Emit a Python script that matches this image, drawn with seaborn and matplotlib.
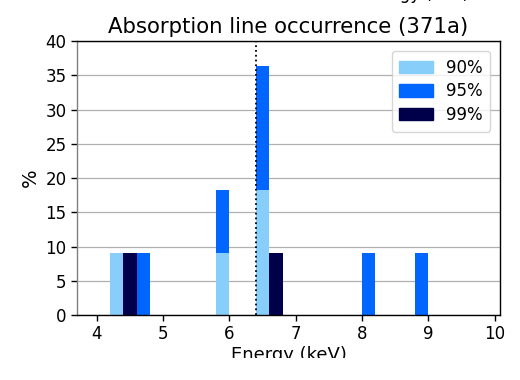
import numpy as np
import pandas as pd
import matplotlib
matplotlib.use("Agg")
import matplotlib.pyplot as plt
from matplotlib.patches import Rectangle
import seaborn as sns

# Line energies (bin centres, keV) and occurrence (%) per confidence level
energy_90 = [4.3, 5.9, 6.5]
pct_90 = [9.09, 9.09, 18.18]
energy_95 = [4.7, 5.9, 6.5, 8.1, 8.9]
pct_95 = [9.09, 9.09, 18.18, 9.09, 9.09]
energy_99 = [4.5, 6.7]
pct_99 = [9.09, 9.09]
levels = ["90%", "95%", "99%"]
colors = {"90%": "#87CEFA", "95%": "#0066FF", "99%": "#00004A"}
fe_line = 6.4

df = pd.concat([
    pd.DataFrame({"energy": energy_90, "pct": pct_90, "level": "90%"}),
    pd.DataFrame({"energy": energy_95, "pct": pct_95, "level": "95%"}),
    pd.DataFrame({"energy": energy_99, "pct": pct_99, "level": "99%"}),
], ignore_index=True)

sns.set_style("white")
plt.rcParams["font.family"] = ["DejaVu Sans"]
plt.rcParams["text.color"] = "black"
plt.rcParams["axes.labelcolor"] = "black"
plt.rcParams["xtick.color"] = "black"
plt.rcParams["ytick.color"] = "black"

fig = plt.figure(figsize=(5.2, 3.8), dpi=100)
ax = fig.add_axes([0.148, 0.171, 0.8135, 0.721])

sns.histplot(data=df, x="energy", weights="pct", hue="level",
             hue_order=levels[::-1], palette=colors,
             binwidth=0.2, binrange=(4.0, 10.0),
             multiple="stack", element="bars", linewidth=0, alpha=1,
             ax=ax, legend=False)

ax.axvline(fe_line, color="black", linestyle=":", linewidth=1.3, zorder=3)

ax.set_xlim(3.7, 10.08)
ax.set_ylim(0, 40)
ax.set_xticks(range(4, 11))
ax.set_yticks(range(0, 41, 5))
ax.yaxis.grid(True, color="#b0b0b0", linewidth=0.9)
ax.set_axisbelow(True)
ax.tick_params(axis="both", labelsize=12, length=4, width=1,
               direction="out", left=True, bottom=True)
for side, sp in ax.spines.items():
    sp.set_color("black")
    sp.set_linewidth(1)
ax.spines["left"].set_color("#808080")

ax.set_xlabel("Energy (keV)", fontsize=13, labelpad=2)
ax.set_ylabel("%", fontsize=14, labelpad=4)
ax.set_title("Absorption line occurrence (371a)", fontsize=15.3, pad=6)

handles = [Rectangle((0, 0), 1, 1, color=colors[l]) for l in levels]
ax.legend(handles, levels, loc="upper right", fontsize=12,
          handlelength=2.0, handleheight=0.75, borderpad=0.45,
          labelspacing=0.35, handletextpad=0.8,
          frameon=True, fancybox=True, borderaxespad=0.6)

# label of the panel above, mostly outside the canvas
fig.text(0.80, 1 + 1 / 380, "Energy (keV)", fontsize=12, ha="center",
         va="baseline")

# blank strip along the lower edge of the canvas
fig.patches.append(Rectangle((0, 0), 1, 22 / 380, transform=fig.transFigure,
                             facecolor="white", edgecolor="none", zorder=10))

fig.savefig("out.png", dpi=100)
